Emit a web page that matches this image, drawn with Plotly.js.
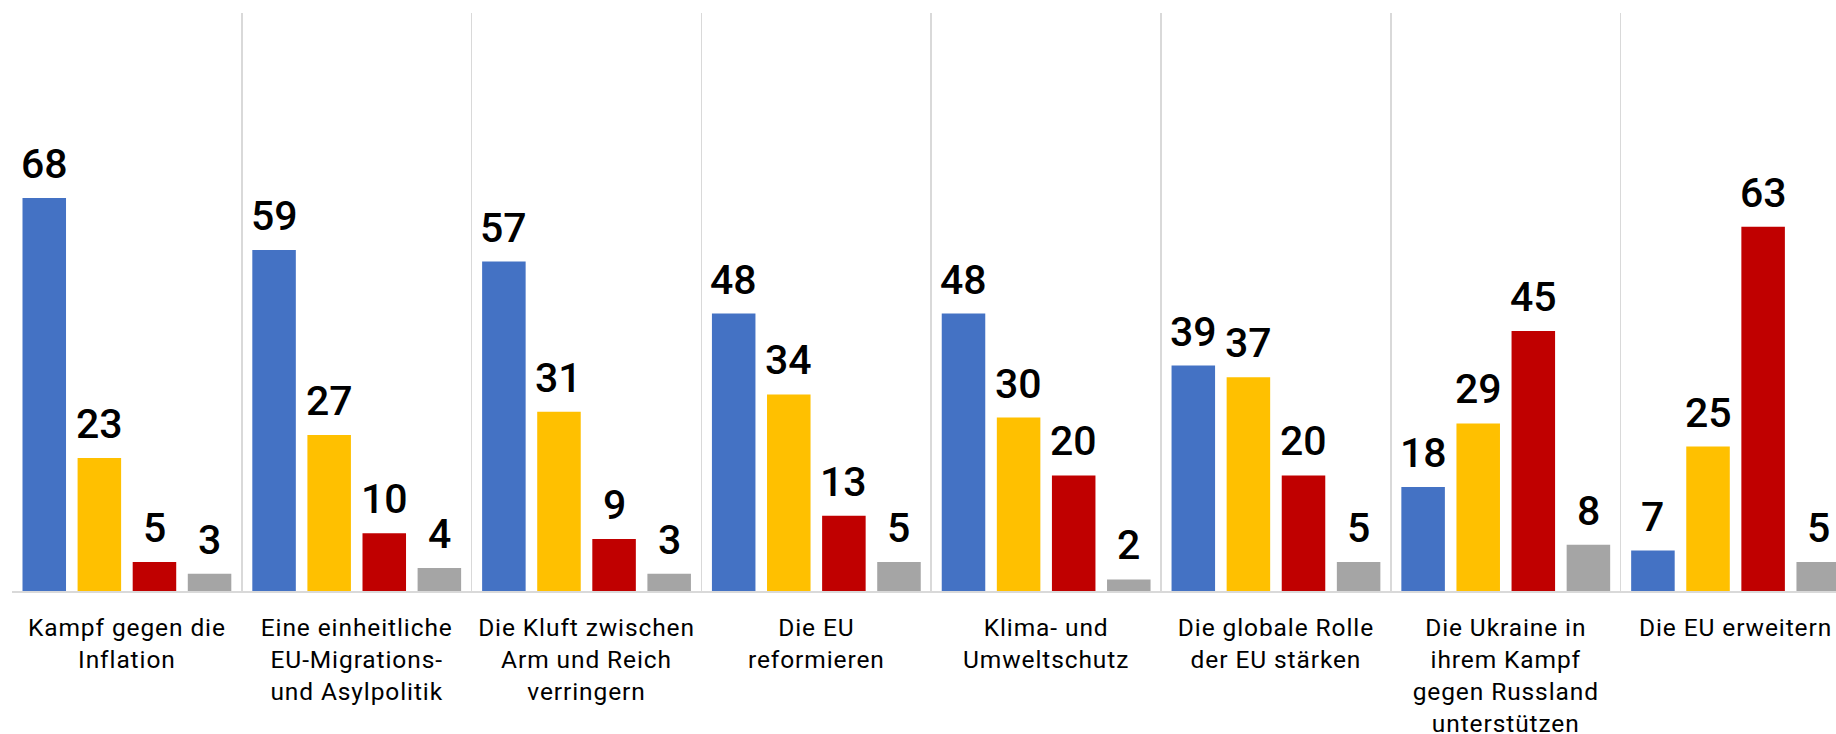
<!DOCTYPE html>
<html>
<head>
<meta charset="utf-8">
<script src="https://cdn.plot.ly/plotly-3.0.1.min.js"></script>
<style>
  html, body { margin: 0; padding: 0; background: #fff; overflow: hidden; }
  #chart { width: 1836px; height: 734px; }
  #chart .xtick text { letter-spacing: 0.9px; }
</style>
</head>
<body>
<div id="chart"></div>
<script>
// ---- data ----
const categories = [
  "Kampf gegen die Inflation",
  "Eine einheitliche EU-Migrations- und Asylpolitik",
  "Die Kluft zwischen Arm und Reich verringern",
  "Die EU reformieren",
  "Klima- und Umweltschutz",
  "Die globale Rolle der EU stärken",
  "Die Ukraine in ihrem Kampf gegen Russland unterstützen",
  "Die EU erweitern"
];
const tickLabels = [
  "Kampf gegen die<br>Inflation",
  "Eine einheitliche<br>EU-Migrations-<br>und Asylpolitik",
  "Die Kluft zwischen<br>Arm und Reich<br>verringern",
  "Die EU<br>reformieren",
  "Klima- und<br>Umweltschutz",
  "Die globale Rolle<br>der EU stärken",
  "Die Ukraine in<br>ihrem Kampf<br>gegen Russland<br>unterstützen",
  "Die EU erweitern"
];
const series1 = [68, 59, 57, 48, 48, 39, 18, 7];
const series2 = [23, 27, 31, 34, 30, 37, 29, 25];
const series3 = [5, 10, 9, 13, 20, 20, 45, 63];
const series4 = [3, 4, 3, 5, 2, 5, 8, 5];
const seriesNames = ["Serie 1", "Serie 2", "Serie 3", "Serie 4"];
const seriesColors = ["#4472C4", "#FFC000", "#C00000", "#A5A5A5"];

// ---- chart ----
const allSeries = [series1, series2, series3, series4];
const FONT = "Roboto, 'DejaVu Sans', sans-serif";
const bargap = 0.041;
const bargroupgap = 0.21;

const traces = allSeries.map((vals, j) => ({
  type: "bar",
  x: categories,
  y: vals,
  name: seriesNames[j],
  marker: { color: seriesColors[j] },
  hoverinfo: "x+y"
}));

const N = allSeries.length;
const slot = (1 - bargap) / N;
const annotations = [];
allSeries.forEach((vals, j) => {
  vals.forEach((v, i) => {
    annotations.push({
      x: i - (1 - bargap) / 2 + (j + 0.5) * slot,
      y: v,
      xref: "x", yref: "y",
      text: String(v),
      showarrow: false,
      xanchor: "center",
      yanchor: "bottom",
      yshift: 8,
      font: { family: FONT, size: 41, color: "#000", weight: 500 }
    });
  });
});

const layout = {
  width: 1836,
  height: 734,
  margin: { l: 12, r: 0, t: 13, b: 143 },
  paper_bgcolor: "#fff",
  plot_bgcolor: "#fff",
  barmode: "group",
  bargap: bargap,
  bargroupgap: bargroupgap,
  showlegend: false,
  xaxis: {
    type: "category",
    range: [-0.5, 7.437],
    tickson: "boundaries",
    showgrid: true,
    gridcolor: "#D9D9D9",
    gridwidth: 1.5,
    showline: true,
    linecolor: "#D9D9D9",
    linewidth: 2,
    ticks: "",
    tickmode: "array",
    tickvals: categories,
    ticktext: tickLabels,
    tickfont: { family: FONT, size: 24.5, color: "#000" },
    ticklabelstandoff: 14,
    zeroline: false,
    fixedrange: true
  },
  yaxis: {
    range: [0, 100],
    showgrid: false,
    showticklabels: false,
    zeroline: false,
    showline: false,
    fixedrange: true
  },
  annotations: annotations
};

Plotly.newPlot("chart", traces, layout, { displayModeBar: false, staticPlot: true });
</script>
</body>
</html>
